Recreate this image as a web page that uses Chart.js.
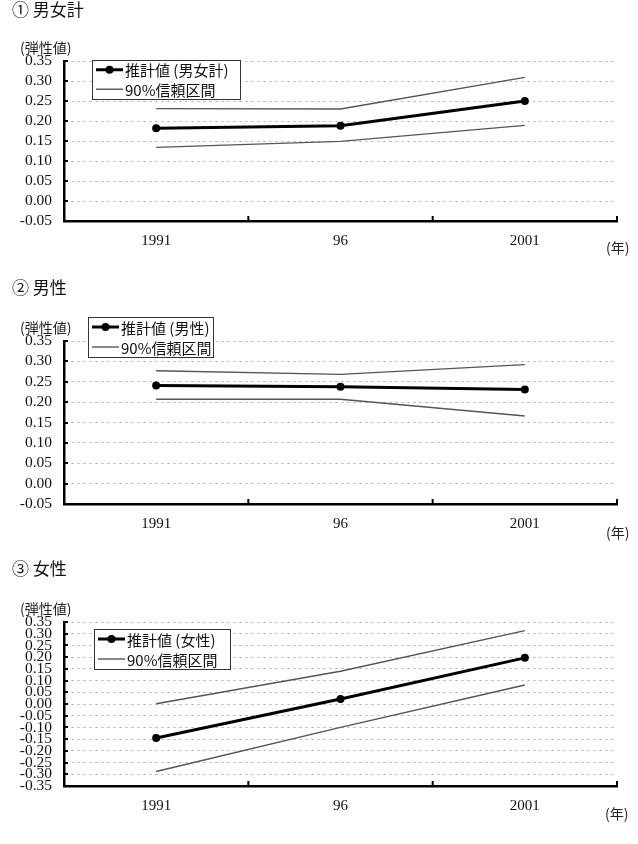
<!DOCTYPE html>
<html>
<head>
<meta charset="utf-8">
<script src="https://cdn.jsdelivr.net/npm/chart.js@4.4.1/dist/chart.umd.min.js"></script>
<style>
  body { margin: 0; background: #fff; }
  #wrap { position: relative; width: 638px; height: 844px; }
  .block { position: absolute; left: 0; width: 638px; }
  .title { position: absolute; left: 12px; font: 17px "Noto Sans CJK JP", sans-serif; color: #111; line-height: 17px; white-space: nowrap; }
  .unit { position: absolute; font: 14px "Noto Sans CJK JP", sans-serif; color: #222; line-height: 14px; white-space: nowrap; }
  canvas { position: absolute; left: 0; top: 0; }
</style>
</head>
<body>
<div id="wrap">
  <div class="block" style="top:0;height:270px">
    <canvas id="c1" width="638" height="270"></canvas>
    <div class="title" style="top:0">① 男女計</div>
    <div class="unit" style="left:20px;top:40px">(弾性値)</div>
    <div class="unit" style="left:606px;top:240px">(年)</div>
  </div>
  <div class="block" style="top:270px;height:280px">
    <canvas id="c2" width="638" height="280"></canvas>
    <div class="title" style="top:8px">② 男性</div>
    <div class="unit" style="left:20px;top:50px">(弾性値)</div>
    <div class="unit" style="left:606px;top:255px">(年)</div>
  </div>
  <div class="block" style="top:550px;height:294px">
    <canvas id="c3" width="638" height="294"></canvas>
    <div class="title" style="top:9px">③ 女性</div>
    <div class="unit" style="left:20px;top:51px">(弾性値)</div>
    <div class="unit" style="left:605px;top:256px">(年)</div>
  </div>
</div>
<script>
// 年
const years = ['1991', '96', '2001'];

// ① 男女計
const estTotal = [0.182, 0.188, 0.250];
const upTotal = [0.231, 0.230, 0.309];
const loTotal = [0.134, 0.149, 0.189];

// ② 男性
const estMale = [0.241, 0.238, 0.231];
const upMale = [0.277, 0.268, 0.292];
const loMale = [0.207, 0.207, 0.166];

// ③ 女性
const estFemale = [-0.145, 0.021, 0.197];
const upFemale = [0.001, 0.140, 0.313];
const loFemale = [-0.288, -0.100, 0.081];

const legendCI = '90%信頼区間';

// 内向きの目盛り
const innerTicks = {
    id: 'innerTicks',
    afterDraw(chart) {
        const ctx = chart.ctx;
        const a = chart.chartArea;
        const ys = chart.scales.y;
        ctx.save();
        ctx.strokeStyle = '#000';
        ctx.lineWidth = 2;
        ys.ticks.forEach(function(t) {
            const y = Math.round(ys.getPixelForValue(t.value));
            ctx.beginPath();
            ctx.moveTo(a.left, y);
            ctx.lineTo(a.left + 4, y);
            ctx.stroke();
        });
        const n = chart.data.labels.length;
        for (let i = 1; i <= n; i++) {
            const x = a.left + (a.right - a.left) * i / n;
            ctx.beginPath();
            ctx.moveTo(x, a.bottom);
            ctx.lineTo(x, a.bottom - 5);
            ctx.stroke();
        }
        ctx.restore();
    }
};

// 凡例（枠付き、プロット内）
const boxLegend = {
    id: 'boxLegend',
    afterDraw(chart, args, opts) {
        const ctx = chart.ctx;
        const ds = chart.data.datasets;
        ctx.save();
        ctx.fillStyle = '#fff';
        ctx.fillRect(opts.x, opts.y, opts.w, opts.h);
        ctx.strokeStyle = '#333';
        ctx.lineWidth = 1;
        ctx.strokeRect(opts.x + 0.5, opts.y + 0.5, opts.w, opts.h);
        const rows = [
            { text: ds[0].label, color: ds[0].borderColor, width: ds[0].borderWidth, dot: true },
            { text: legendCI, color: ds[1].borderColor, width: ds[1].borderWidth, dot: false }
        ];
        ctx.font = '15px "Noto Sans CJK JP", sans-serif';
        ctx.textBaseline = 'middle';
        rows.forEach(function(r, i) {
            const y = opts.y + opts.h * (i + 0.5) / 2;
            const x0 = opts.x + 4, x1 = opts.x + 31;
            ctx.strokeStyle = r.color;
            ctx.lineWidth = r.width;
            ctx.beginPath();
            ctx.moveTo(x0, y);
            ctx.lineTo(x1, y);
            ctx.stroke();
            if (r.dot) {
                ctx.fillStyle = '#000';
                ctx.beginPath();
                ctx.arc((x0 + x1) / 2, y, 4, 0, Math.PI * 2);
                ctx.fill();
            }
            ctx.fillStyle = '#111';
            ctx.fillText(r.text, x1 + 2, y + 1);
        });
        ctx.restore();
    }
};

function makeChart(id, label, est, up, lo, yMin, pad, legendBox) {
    const ctx = document.getElementById(id).getContext('2d');
    return new Chart(ctx, {
        type: 'line',
        data: {
            labels: years,
            datasets: [
                {
                    label: label,
                    data: est,
                    borderColor: '#000',
                    backgroundColor: '#000',
                    borderWidth: 3,
                    pointRadius: 4,
                    pointBackgroundColor: '#000',
                    pointBorderWidth: 0,
                    tension: 0,
                    order: 0
                },
                {
                    label: '90%信頼区間（上限）',
                    data: up,
                    borderColor: '#555',
                    borderWidth: 1.4,
                    pointRadius: 0,
                    tension: 0,
                    order: 1
                },
                {
                    label: '90%信頼区間（下限）',
                    data: lo,
                    borderColor: '#555',
                    borderWidth: 1.4,
                    pointRadius: 0,
                    tension: 0,
                    order: 1
                }
            ]
        },
        options: {
            responsive: false,
            animation: false,
            layout: { padding: { left: 0, right: 21, top: pad.top, bottom: pad.bottom } },
            plugins: {
                legend: { display: false },
                tooltip: { enabled: false },
                boxLegend: legendBox
            },
            scales: {
                x: {
                    offset: true,
                    grid: { display: false, drawTicks: false },
                    border: { display: true, color: '#000', width: 2.5 },
                    ticks: {
                        padding: 11,
                        color: '#111',
                        font: { family: '"Liberation Serif", serif', size: 15 }
                    },
                    afterFit: function(s) { s.height = 30; }
                },
                y: {
                    min: yMin,
                    max: 0.35,
                    grid: { color: '#a8a8a8', lineWidth: 1, drawTicks: false },
                    border: { display: true, color: '#000', width: 2.5, dash: [2, 4] },
                    ticks: {
                        stepSize: 0.05,
                        autoSkip: false,
                        padding: 12,
                        color: '#111',
                        font: { family: '"Liberation Serif", serif', size: 15.5 },
                        callback: function(v) { return (Math.abs(v) < 1e-9 ? 0 : v).toFixed(2); }
                    },
                    afterFit: function(s) { s.width = 64; }
                }
            }
        },
        plugins: [innerTicks, boxLegend]
    });
}

makeChart('c1', '推計値 (男女計)', estTotal, upTotal, loTotal, -0.05,
    { top: 61, bottom: 270 - 221 - 30 }, { x: 92, y: 60, w: 148, h: 39 });
makeChart('c2', '推計値 (男性)', estMale, upMale, loMale, -0.05,
    { top: 71, bottom: 280 - 234 - 30 }, { x: 88, y: 47, w: 125, h: 40 });
makeChart('c3', '推計値 (女性)', estFemale, upFemale, loFemale, -0.35,
    { top: 72, bottom: 294 - 236 - 30 }, { x: 94, y: 79, w: 136, h: 40 });
</script>
</body>
</html>
